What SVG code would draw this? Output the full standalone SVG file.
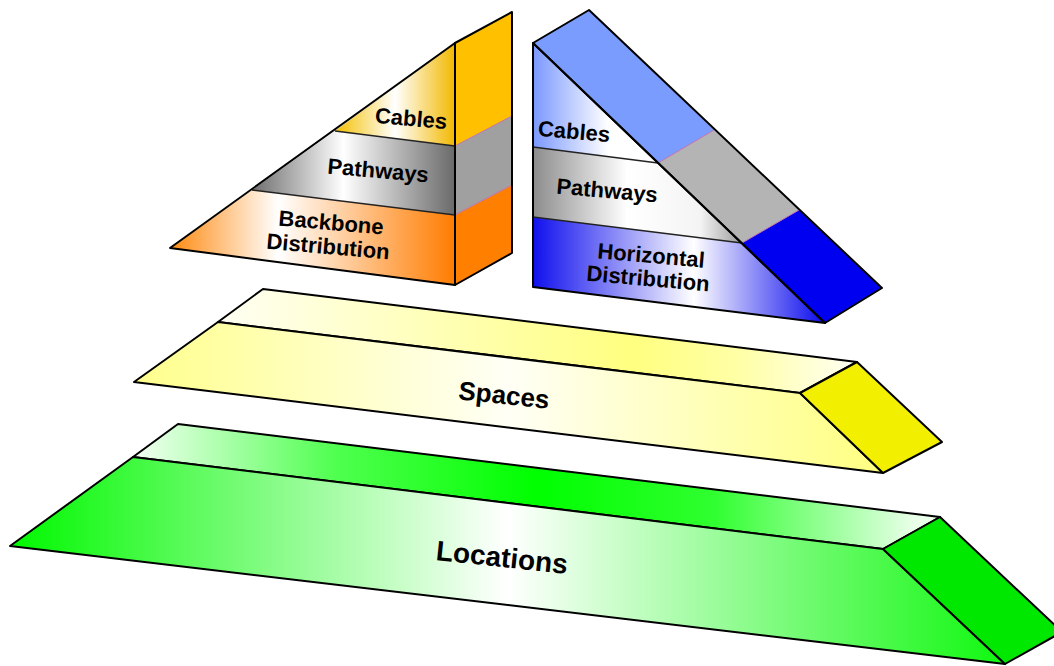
<svg xmlns="http://www.w3.org/2000/svg" width="1054" height="666" viewBox="0 0 1054 666">
<style>
.o{stroke:#000;stroke-width:2;stroke-linejoin:round}
.b{stroke:#222;stroke-width:1.5;fill:none}
.s{stroke:#c070b0;stroke-width:1}
.t{font-family:"Liberation Sans",Arial,sans-serif;font-weight:bold;fill:#000;text-anchor:middle}
</style>
<defs>
<linearGradient id="gGold" x1="0" y1="0" x2="1" y2="0"><stop offset="0" stop-color="#f4c000"/><stop offset="0.5" stop-color="#ffffff"/><stop offset="1" stop-color="#f2b800"/></linearGradient>
<linearGradient id="gGrayL" x1="0" y1="0" x2="1" y2="0"><stop offset="0" stop-color="#6e6e6e"/><stop offset="0.45" stop-color="#ffffff"/><stop offset="1" stop-color="#6a6a6a"/></linearGradient>
<linearGradient id="gOrange" x1="0" y1="0" x2="1" y2="0"><stop offset="0" stop-color="#ff8a10"/><stop offset="0.38" stop-color="#ffffff"/><stop offset="1" stop-color="#ff7c00"/></linearGradient>
<linearGradient id="gLBlue" x1="0" y1="0" x2="1" y2="0"><stop offset="0" stop-color="#7a98ff"/><stop offset="0.6" stop-color="#ffffff"/><stop offset="1" stop-color="#ffffff"/></linearGradient>
<linearGradient id="gGrayR" x1="0" y1="0" x2="1" y2="0"><stop offset="0" stop-color="#8c8c8c"/><stop offset="0.45" stop-color="#ffffff"/><stop offset="0.8" stop-color="#f4f4f4"/><stop offset="1" stop-color="#9a9a9a"/></linearGradient>
<linearGradient id="gBlue" x1="0" y1="0" x2="1" y2="0"><stop offset="0" stop-color="#1010ee"/><stop offset="0.55" stop-color="#ffffff"/><stop offset="1" stop-color="#0a0aee"/></linearGradient>
<linearGradient id="gSpTop" gradientUnits="userSpaceOnUse" x1="218" y1="0" x2="857" y2="0"><stop offset="0" stop-color="#fffff4"/><stop offset="0.65" stop-color="#ffff80"/><stop offset="0.82" stop-color="#ffffa8"/><stop offset="1" stop-color="#fffff4"/></linearGradient>
<linearGradient id="gSpFront" gradientUnits="userSpaceOnUse" x1="134" y1="0" x2="883" y2="0"><stop offset="0" stop-color="#ffff8c"/><stop offset="0.5" stop-color="#fffff6"/><stop offset="1" stop-color="#ffff80"/></linearGradient>
<linearGradient id="gLoTop" gradientUnits="userSpaceOnUse" x1="133" y1="0" x2="940" y2="0"><stop offset="0" stop-color="#f4fff4"/><stop offset="0.25" stop-color="#50ff50"/><stop offset="0.5" stop-color="#00ff00"/><stop offset="0.72" stop-color="#30ff30"/><stop offset="0.97" stop-color="#eaffea"/></linearGradient>
<linearGradient id="gLoFront" gradientUnits="userSpaceOnUse" x1="10" y1="0" x2="1005" y2="0"><stop offset="0" stop-color="#00f800"/><stop offset="0.5" stop-color="#ffffff"/><stop offset="1" stop-color="#10f810"/></linearGradient>
</defs>

<g id="backbone-wedge">
<polygon points="335,131 455,43 455,146" fill="url(#gGold)"/>
<polygon points="252,190 335,131 455,146 455,215" fill="url(#gGrayL)"/>
<polygon points="170,248 252,190 455,215 455,285" fill="url(#gOrange)"/>
<polygon points="455,43 512,12 512,116 455,146" fill="#ffc000"/>
<polygon points="455,146 512,116 512,185 455,215" fill="#a0a0a0"/>
<polygon points="455,215 512,185 512,253 455,285" fill="#ff8000"/>
<line class="b" x1="335" y1="131" x2="455" y2="146"/>
<line class="b" x1="252" y1="190" x2="455" y2="215"/>
<line class="s" x1="455" y1="146" x2="512" y2="116"/>
<line class="s" x1="455" y1="215" x2="512" y2="185"/>
<polygon class="o" fill="none" points="170,248 455,43 455,285"/>
<polygon class="o" fill="none" points="455,43 512,12 512,253 455,285"/>
<text class="t" font-size="22" x="411" y="126" transform="rotate(5 411 120)">Cables</text>
<text class="t" font-size="22" x="378" y="178" transform="rotate(5 378 172)">Pathways</text>
<text class="t" font-size="22" x="331" y="230" transform="rotate(5 331 224)">Backbone</text>
<text class="t" font-size="22" x="328" y="254" transform="rotate(5 328 248)">Distribution</text>
</g>

<g id="horizontal-wedge">
<polygon points="533,43 658,163 533,147" fill="url(#gLBlue)"/>
<polygon points="533,147 658,163 742,243 533,217" fill="url(#gGrayR)"/>
<polygon points="533,217 742,243 825,323 533,287" fill="url(#gBlue)"/>
<polygon points="533,43 589,10 714,130 658,163" fill="#7b9cff"/>
<polygon points="658,163 714,130 799,210 742,243" fill="#b4b4b4"/>
<polygon points="742,243 799,210 882,288 825,323" fill="#0000f0"/>
<line class="b" x1="533" y1="147" x2="658" y2="163"/>
<line class="b" x1="533" y1="217" x2="742" y2="243"/>
<line class="s" x1="658" y1="163" x2="714" y2="130"/>
<line class="s" x1="742" y1="243" x2="799" y2="210"/>
<polygon class="o" fill="none" points="533,43 825,323 533,287"/>
<polygon class="o" fill="none" points="533,43 589,10 882,288 825,323"/>
<text class="t" font-size="22" x="574" y="139" transform="rotate(5 574 133)">Cables</text>
<text class="t" font-size="22" x="607" y="198" transform="rotate(5 607 192)">Pathways</text>
<text class="t" font-size="22" x="651" y="263" transform="rotate(5 651 257)">Horizontal</text>
<text class="t" font-size="22" x="648" y="286" transform="rotate(5 648 280)">Distribution</text>
</g>

<g id="spaces">
<polygon class="o" points="263,289 857,362 800,393 218,322" fill="url(#gSpTop)"/>
<polygon class="o" points="218,322 800,393 883,473 134,382" fill="url(#gSpFront)"/>
<polygon class="o" points="857,362 942,442 883,473 800,393" fill="#f2ef00"/>
<text class="t" font-size="26" x="504" y="404" transform="rotate(6 504 396)">Spaces</text>
</g>

<g id="locations">
<polygon class="o" points="178,424 940,517 883,549 133,457" fill="url(#gLoTop)"/>
<polygon class="o" points="133,457 883,549 1005,664 10,546" fill="url(#gLoFront)"/>
<polygon class="o" points="940,517 1062,632 1005,664 883,549" fill="#00e800"/>
<text class="t" font-size="28" x="502" y="567" transform="rotate(6 502 558)">Locations</text>
</g>
</svg>
